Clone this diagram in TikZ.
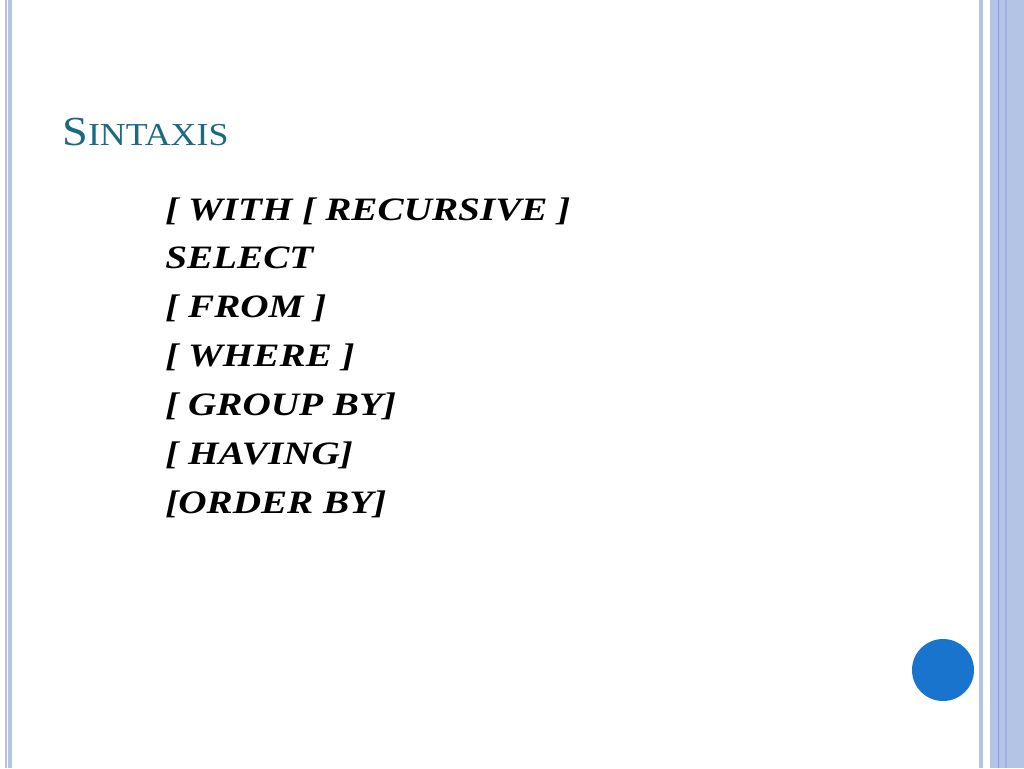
\documentclass[tikz,border=0pt]{standalone}
\usepackage{fontspec}
\usepackage{graphicx}
\setmainfont{Liberation Serif}
\newcommand{\codeln}[1]{\scalebox{1.2}[1]{#1}}
\begin{document}
\begin{tikzpicture}[x=0.75pt,y=-0.75pt,
  code/.style={anchor=base west,inner sep=0,font=\fontsize{24.5}{26}\selectfont\bfseries\itshape}]
\definecolor{band}{HTML}{B4C4E4}
\definecolor{teal}{HTML}{1B6A83}
\useasboundingbox (0,0) rectangle (1024,768);
\fill[white] (0,0) rectangle (1024,768);
\fill[band] (5,0) rectangle (6.5,768);
\fill[band] (8,0) rectangle (12,768);
\fill[band] (979,0) rectangle (983,768);
\fill[band] (990,0) rectangle (1024,768);
\fill[band!60!blue!80] (997.5,0) rectangle (998.5,768);
\fill[band!90!blue] (1005,0) rectangle (1007,768);
\node[anchor=base west,inner sep=0,text=teal] (title) at (62,145)
  {\scalebox{1.12}[1]{\fontsize{31}{32}\selectfont S\fontsize{24}{26}\selectfont INTAXIS}};
\node[code] (l1) at (165,220) {\codeln{[ WITH [ RECURSIVE ]}};
\node[code] (l2) at (165,268) {\codeln{SELECT}};
\node[code] (l3) at (165,317) {\codeln{[ FROM ]}};
\node[code] (l4) at (165,366) {\codeln{[ WHERE ]}};
\node[code] (l5) at (165,415) {\codeln{[ GROUP BY]}};
\node[code] (l6) at (165,464) {\codeln{[ HAVING]}};
\node[code] (l7) at (165,513) {\codeln{[ORDER BY]}};
\fill[color={rgb,255:red,24;green,116;blue,205}] (943,670) circle (31);
\end{tikzpicture}
\end{document}
